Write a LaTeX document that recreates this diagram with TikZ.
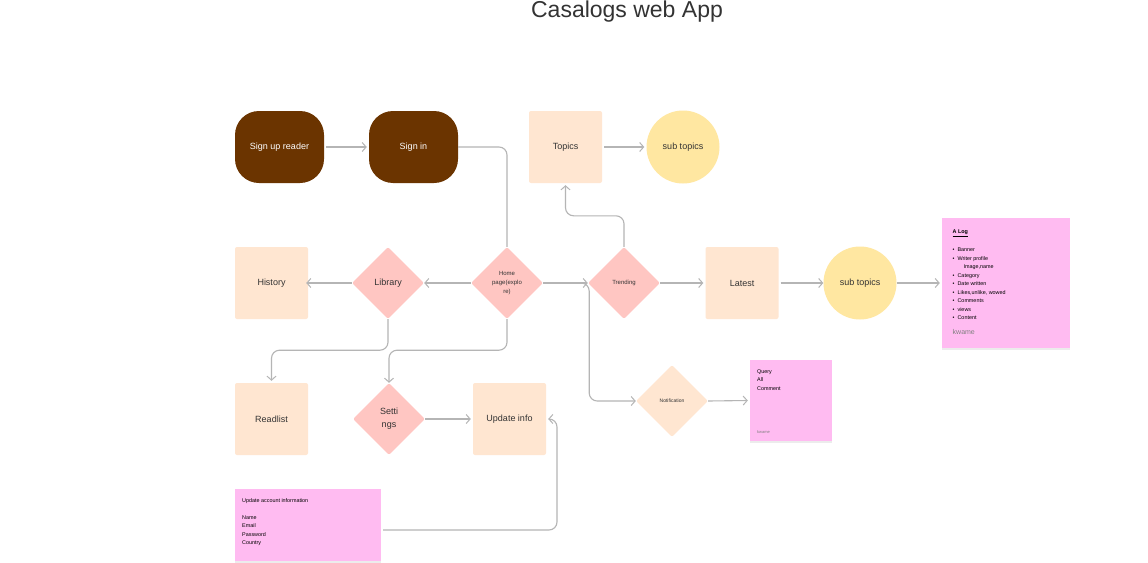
\documentclass[tikz,border=0pt]{standalone}
\usepackage{fontspec}
\setmainfont{Liberation Sans}
\usetikzlibrary{shapes.geometric,arrows.meta,shadows,calc}
\definecolor{brownbox}{HTML}{6B3400}
\definecolor{peach}{HTML}{FFE6D1}
\definecolor{rosy}{HTML}{FFC6C2}
\definecolor{sunny}{HTML}{FFE7A1}
\definecolor{sticky}{HTML}{FFBBF1}
\definecolor{conn}{HTML}{B5B5B5}
\definecolor{inkgray}{HTML}{333333}
\tikzset{
  pill/.style={draw=none,fill=brownbox,rounded corners=24pt,minimum width=89pt,minimum height=72pt,text=white,font=\fontsize{9}{11}\selectfont},
  sqbox/.style={draw=none,fill=peach,rounded corners=2pt,minimum width=73pt,minimum height=72pt,text=inkgray,font=\fontsize{9}{11}\selectfont},
  dia/.style={diamond,draw=none,fill=rosy,minimum width=72pt,minimum height=72pt,inner sep=0pt,shape aspect=1,text=inkgray,align=center,rounded corners=2pt},
  blob/.style={circle,draw=none,fill=sunny,minimum size=73pt,inner sep=0pt,text=inkgray,font=\fontsize{9}{11}\selectfont},
  note/.style={draw=none,fill=sticky,drop shadow={shadow xshift=0pt,shadow yshift=-1.5pt,opacity=0.15}},
  notetext/.style={anchor=north west,inner sep=0pt,align=left,text=black,font=\fontsize{5.4}{8.5}\selectfont},
  link/.style={draw=conn,line width=1.1pt,rounded corners=8pt},
  arr/.style={link,-{Straight Barb[length=4pt,width=9pt,line width=1pt]}}
}
\begin{document}
\begin{tikzpicture}[x=1pt,y=-1pt]
\useasboundingbox[fill=white] (0,0) rectangle (1148,562);
\node[font=\fontsize{23}{26}\selectfont,text=inkgray] (title) at (627,12) {Casalogs web App};

\node[pill] (signup) at (279.5,147) {Sign up reader};
\node[pill] (signin) at (413.5,147) {Sign in};
\node[sqbox] (topics) at (565.5,147) {Topics};
\node[blob] (sub1) at (683,147) {sub topics};

\node[sqbox] (history) at (271.5,283) {History};
\node[dia,font=\fontsize{9}{11}\selectfont] (library) at (388,283) {Library};
\node[dia,font=\fontsize{6}{9}\selectfont] (home) at (507,283) {Home\\page(explo\\re)};
\node[dia,font=\fontsize{6}{8}\selectfont] (trending) at (624,283) {Trending};
\node[sqbox] (latest) at (742,283) {Latest};
\node[blob] (sub2) at (860,283) {sub topics};

\node[note,minimum width=128pt,minimum height=130pt] (alog) at (1006,283) {};
\node[notetext] (alogtext) at (952.5,229.5) {\underline{\textbf{A Log}}\\[10pt]
\textbullet\ \ Banner\\
\textbullet\ \ Writer profile\\
\hspace{11pt}Image,name\\
\textbullet\ \ Category\\
\textbullet\ \ Date written\\
\textbullet\ \ Likes,unlike, wowed\\
\textbullet\ \ Comments\\
\textbullet\ \ views\\
\textbullet\ \ Content};
\node[anchor=west,inner sep=0pt,text=gray,font=\fontsize{7}{8}\selectfont] (alogauthor) at (952.5,332) {kwame};

\node[sqbox] (readlist) at (271.5,419) {Readlist};
\node[dia,font=\fontsize{9}{13}\selectfont] (settings) at (389,419) {Setti\\ngs};
\node[sqbox] (update) at (509.5,419) {Update info};

\node[dia,fill=peach,font=\fontsize{5}{6}\selectfont] (notif) at (672,401) {Notification};
\node[note,minimum width=82pt,minimum height=81pt] (query) at (791,400.5) {};
\node[notetext] (querytext) at (757,369.5) {Query\\All\\Comment};
\node[anchor=west,inner sep=0pt,text=gray,font=\fontsize{4}{5}\selectfont] (queryauthor) at (757,432) {kwame};

\node[note,minimum width=146pt,minimum height=72pt] (account) at (308,525) {};
\node[notetext] (accounttext) at (242,498) {Update account information\\[8.5pt]Name\\Email\\Password\\Country};

% connectors
\draw[arr] (signup.east) ++(2,0) -- ($(signin.west)+(-2,0)$);
\draw[link] (signin.east) -| (home.north);
\draw[arr] (topics.east) ++(2,0) -- ($(sub1.west)+(-2,0)$);
\draw[arr] (trending.north) -- ++(0,-31) -| ($(topics.south)+(0,2)$);
\draw[arr] (home.west) -- (library.east);
\draw[arr] (library.west) -- ($(history.east)+(-2,0)$) ;
\draw[arr] (home.east) -- (trending.west);
\draw[link,-{Straight Barb[length=4pt,width=9pt,line width=1pt]}] (home.east) -- ++(46,0) |- (notif.west);
\draw[arr] (trending.east) -- ($(latest.west)+(-2,0)$);
\draw[arr] (latest.east) ++(2,0) -- (sub2.west);
\draw[arr] (sub2.east) -- ($(alog.west)+(-2,0)$);
\draw[arr] (library.south) -- ++(0,31) -| ($(readlist.north)+(0,-2)$);
\draw[arr] (home.south) -- ++(0,31) -| (settings.north);
\draw[arr] (settings.east) -- ($(update.west)+(-2,0)$);
\draw[arr] (notif.east) -- ($(query.west)+(-2,0)$);
\coordinate (bend) at (557,530);
\draw[arr] (account.east) ++(2,5) -- (bend) |- ($(update.east)+(2,0)$);
\end{tikzpicture}
\end{document}
